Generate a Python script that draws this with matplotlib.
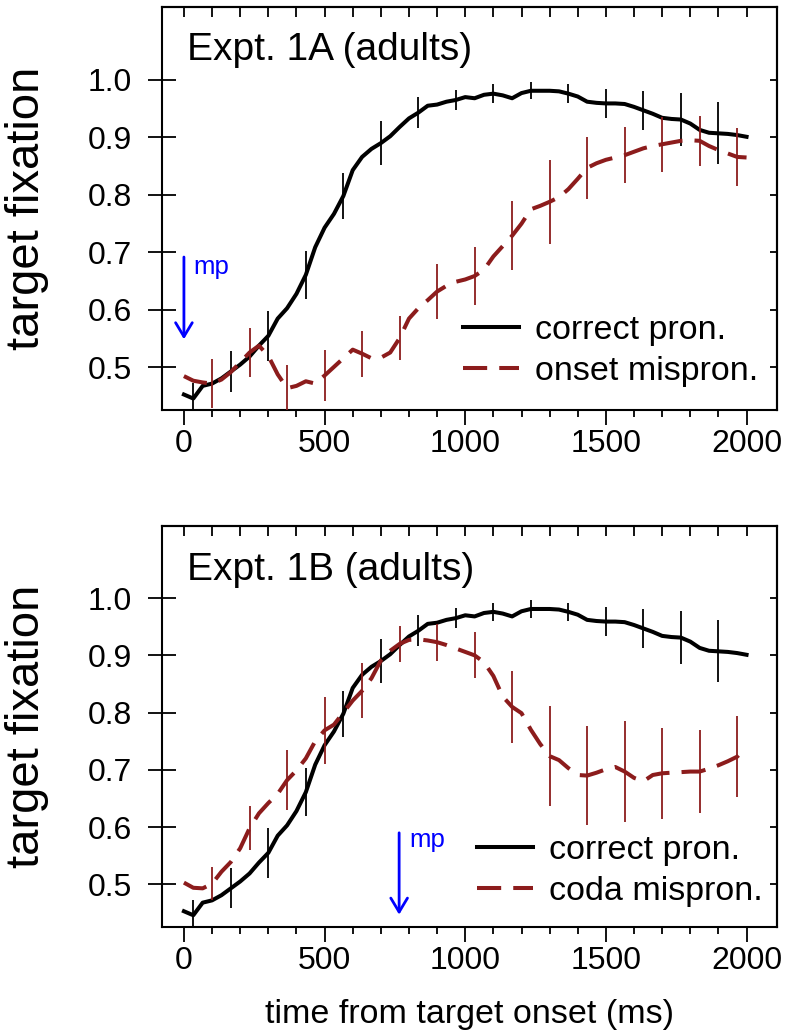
import numpy as np
import matplotlib
matplotlib.use("Agg")
import matplotlib.pyplot as plt

plt.rcParams['font.family'] = ['Liberation Sans', 'DejaVu Sans']

# time bins (ms), one every 33.3 ms
time_ms = np.linspace(0, 2000, 61)

# proportion of target fixation, correct pronunciation (same in both panels)
correct = [0.453, 0.446, 0.468, 0.472, 0.481, 0.493, 0.505, 0.519, 0.538, 0.555,
           0.585, 0.603, 0.628, 0.661, 0.709, 0.743, 0.767, 0.798, 0.843, 0.866,
           0.880, 0.890, 0.902, 0.918, 0.933, 0.943, 0.955, 0.957, 0.962, 0.965,
           0.970, 0.968, 0.974, 0.976, 0.973, 0.968, 0.977, 0.981, 0.981, 0.981,
           0.980, 0.976, 0.971, 0.962, 0.960, 0.959, 0.959, 0.958, 0.953, 0.947,
           0.941, 0.934, 0.932, 0.931, 0.924, 0.913, 0.908, 0.907, 0.906, 0.904,
           0.901]

# onset mispronunciation (Expt. 1A)
onset_mis = [0.485, 0.477, 0.474, 0.472, 0.479, 0.492, 0.509, 0.526, 0.538, 0.520,
             0.488, 0.464, 0.468, 0.476, 0.472, 0.486, 0.501, 0.516, 0.531, 0.524,
             0.516, 0.517, 0.526, 0.551, 0.585, 0.603, 0.617, 0.632, 0.642, 0.649,
             0.653, 0.659, 0.670, 0.693, 0.711, 0.729, 0.750, 0.775, 0.781, 0.788,
             0.796, 0.810, 0.828, 0.847, 0.855, 0.861, 0.865, 0.869, 0.875, 0.881,
             0.885, 0.888, 0.891, 0.894, 0.895, 0.894, 0.885, 0.878, 0.872, 0.866,
             0.865]

# coda mispronunciation (Expt. 1B)
coda_mis = [0.503, 0.494, 0.493, 0.501, 0.522, 0.539, 0.563, 0.598, 0.624, 0.642,
            0.658, 0.682, 0.699, 0.720, 0.750, 0.769, 0.779, 0.800, 0.821, 0.838,
            0.860, 0.891, 0.908, 0.920, 0.927, 0.928, 0.926, 0.923, 0.918, 0.912,
            0.906, 0.900, 0.888, 0.864, 0.828, 0.810, 0.799, 0.770, 0.745, 0.724,
            0.717, 0.703, 0.691, 0.690, 0.695, 0.701, 0.705, 0.697, 0.686, 0.680,
            0.691, 0.694, 0.695, 0.696, 0.697, 0.697, 0.702, 0.708, 0.715, 0.723,
            0.740]

# standard errors, shown every 4th bin
correct_se = [0.027, 0.035, 0.044, 0.042, 0.040, 0.038, 0.027, 0.017, 0.016, 0.015,
              0.016, 0.025, 0.034, 0.046, 0.054]
onset_se = [0.042, 0.043, 0.041, 0.045, 0.040, 0.038, 0.048, 0.050, 0.060, 0.073,
            0.054, 0.049, 0.048, 0.043, 0.051]
coda_se = [0.029, 0.038, 0.052, 0.058, 0.048, 0.032, 0.032, 0.040, 0.063, 0.088,
           0.086, 0.088, 0.079, 0.072, 0.071]

titles = ['Expt. 1A (adults)', 'Expt. 1B (adults)']
mis_labels = ['onset mispron.', 'coda mispron.']
mp_times = [0, 765]

BLACK = 'black'
RED = '#8c1c1c'
BLUE = '#0000ff'


def draw_panel(ax, mis, mis_se, mis_label, title, mp_t, arrow_top, arrow_tip,
               mp_base, leg_anchor):
    c = np.array(correct)
    m = np.array(mis)
    ax.plot(time_ms, c, color=BLACK, lw=2.9, label='correct pron.',
            solid_joinstyle='round', zorder=3)
    ax.errorbar(time_ms[1::4], c[1::4], yerr=correct_se, fmt='none',
                ecolor=BLACK, elinewidth=1.3, capsize=0, zorder=3)
    ax.plot(time_ms, m, color=RED, lw=2.9, dashes=(6, 3), label=mis_label,
            zorder=4)
    ax.errorbar(time_ms[3::4], m[3::4], yerr=mis_se, fmt='none',
                ecolor=RED, elinewidth=1.3, capsize=0, zorder=4)

    ax.set_xlim(-77, 2107)
    ax.set_ylim(0.426, 1.126)
    ax.set_xticks([0, 500, 1000, 1500, 2000])
    ax.set_xticks(np.arange(0, 2001, 100), minor=True)
    ax.set_yticks([0.5, 0.6, 0.7, 0.8, 0.9, 1.0])
    ax.set_yticklabels(['0.5', '0.6', '0.7', '0.8', '0.9', '1.0'])
    ax.tick_params(axis='x', which='major', direction='out', length=11,
                   width=1.3, pad=3, labelsize=23)
    ax.tick_params(axis='x', which='minor', direction='out', length=5, width=1.3)
    ax.tick_params(axis='y', which='major', direction='inout', length=20,
                   width=1.3, pad=12, labelsize=23)
    for s in ax.spines.values():
        s.set_linewidth(1.5)

    top = ax.secondary_xaxis('top')
    top.set_xticks(np.arange(0, 2001, 100))
    top.tick_params(direction='in', length=7, width=1.3, labeltop=False)
    top.spines['top'].set_linewidth(1.5)
    right = ax.secondary_yaxis('right')
    right.set_yticks([0.5, 0.6, 0.7, 0.8, 0.9, 1.0])
    right.tick_params(direction='in', length=5, width=1.3, labelright=False)
    right.spines['right'].set_linewidth(1.5)

    ax.set_ylabel('target fixation', fontsize=34)
    ax.yaxis.set_label_coords(-0.185, 0.5)

    ax.text(0.04, title[1], title[0], transform=ax.transAxes, fontsize=28,
            va='baseline', ha='left')

    ax.annotate('', xy=(mp_t, arrow_tip), xytext=(mp_t, arrow_top),
                arrowprops=dict(arrowstyle='->,head_length=0.5,head_width=0.3',
                                color=BLUE, lw=2, mutation_scale=20,
                                shrinkA=0, shrinkB=0))
    ax.text(mp_t + 35, mp_base, 'mp', color=BLUE, fontsize=18.5, va='baseline')

    ax.legend(loc='upper left', bbox_to_anchor=leg_anchor, frameon=False,
              fontsize=24.5, handlelength=1.65, handletextpad=0.47,
              labelspacing=0.29, borderpad=0, borderaxespad=0)


fig = plt.figure(figsize=(7.9, 10.36), dpi=100)
ax1 = fig.add_axes([0.2054, 0.6042, 0.7777, 0.3887])
ax2 = fig.add_axes([0.2054, 0.1055, 0.7777, 0.3868])

draw_panel(ax1, onset_mis, onset_se, mis_labels[0], (titles[0], 0.869),
           mp_times[0], 0.692, 0.549, 0.663, (0.489, 0.236))
draw_panel(ax2, coda_mis, coda_se, mis_labels[1], (titles[1], 0.865),
           mp_times[1], 0.590, 0.447, 0.565, (0.512, 0.229))

ax2.set_xlabel('time from target onset (ms)', fontsize=24.5)
ax2.xaxis.set_label_coords(0.5, -0.18)

fig.savefig('out.png', dpi=100)
